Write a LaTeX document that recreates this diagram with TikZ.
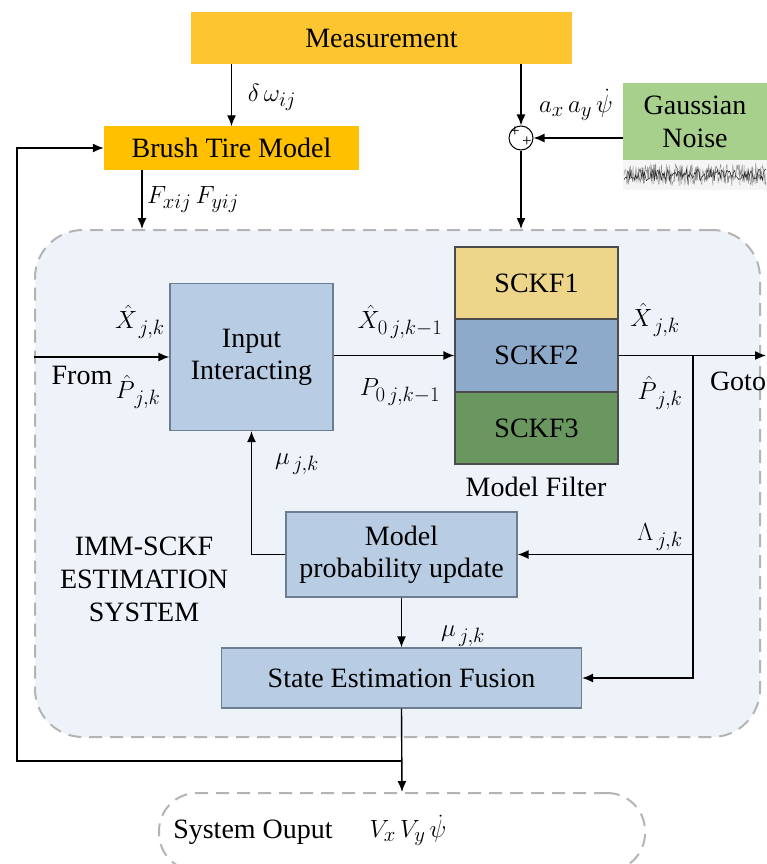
\documentclass[tikz,border=0pt]{standalone}
\usepackage{fontspec}
\setmainfont{Liberation Serif}[Ligatures=TeX]
\newfontfamily\serifx{Liberation Serif}
\usetikzlibrary{arrows.meta,calc}
\definecolor{measC}{HTML}{FDC630}
\definecolor{brushC}{HTML}{FFC000}
\definecolor{gaussC}{HTML}{A8D08D}
\definecolor{bigC}{HTML}{EEF3FA}
\definecolor{blueC}{HTML}{B8CCE4}
\definecolor{blueD}{HTML}{6D7E92}
\definecolor{sk1}{HTML}{EDD589}
\definecolor{sk2}{HTML}{8EAACA}
\definecolor{sk3}{HTML}{6A9660}
\definecolor{dashC}{HTML}{B4B4B4}
\begin{document}
\begin{tikzpicture}[x=1pt,y=-1pt,
  font=\serifx\fontsize{28}{32}\selectfont,
  every node/.style={inner sep=0pt},
  arr/.style={-{Latex[length=11pt,width=9pt]}, line width=1.4pt},
  bluebox/.style={fill=blueC, draw=blueD, line width=1.2pt, align=center},
  sckf/.style={draw=black!70, line width=1.2pt, minimum width=163pt},
  dashbox/.style={draw=dashC, line width=2pt, dash pattern=on 13pt off 8pt}
]
\path[use as bounding box, clip] (0,0) rectangle (767,864);
\fill[white] (0,0) rectangle (767,864);

% big dashed system box
\node[dashbox, fill=bigC, rounded corners=48pt, minimum width=725pt, minimum height=507pt] (big) at (397.5,483.5) {};

% top boxes
\node[fill=measC, minimum width=381pt, minimum height=52pt] (meas) at (381.5,38) {Measurement};
\node[fill=brushC, minimum width=255pt, minimum height=43pt] (brush) at (231.5,148) {Brush Tire Model};
\node[fill=gaussC, minimum width=144pt, minimum height=77pt, align=center, font=\serifx\fontsize{28}{33}\selectfont] (gauss) at (695,121.5) {Gaussian\\Noise};
\node[draw, circle, line width=1pt, minimum size=24pt] (sum) at (521,138) {};
\node[font=\fontsize{17}{17}\selectfont] (p1) at (515,132) {+};
\node[font=\fontsize{17}{17}\selectfont] (p2) at (527,142) {+};

% noise strip
\fill[black!4] (623,160) rectangle (767,190);
\pgfmathsetseed{11}
\draw[black!45, line width=0.4pt] plot[domain=624:766, samples=300] (\x, {175+11*rand});
\draw[black!85, line width=0.5pt] plot[domain=624:766, samples=160] (\x, {175+6*rand});

% inner blocks
\node[bluebox, minimum width=163pt, minimum height=147pt] (inp) at (251.5,357) {Input\\Interacting};
\node[sckf, fill=sk1, minimum height=72pt] (s1) at (536.5,283) {SCKF1};
\node[sckf, fill=sk2, minimum height=73pt] (s2) at (536.5,355.5) {SCKF2};
\node[sckf, fill=sk3, minimum height=72pt] (s3) at (536.5,428) {SCKF3};
\node (mf) at (536,487) {Model Filter};
\node[bluebox, minimum width=231pt, minimum height=85pt] (mp) at (401.5,554.5) {Model\\probability update};
\node[bluebox, minimum width=360pt, minimum height=60pt] (sef) at (401.5,678) {State Estimation Fusion};
\node[align=center, font=\serifx\fontsize{28}{33}\selectfont] (imm) at (144,579) {IMM-SCKF\\ESTIMATION\\SYSTEM};

% output box
\node[dashbox, rounded corners=38pt, minimum width=486pt, minimum height=78pt] (out) at (402,832) {};
\node (outtxt) at (253,832) {System Ouput};
\node (outv) at (408,830) {$V_x\,V_y\,\dot{\psi}$};

% coordinates
\coordinate (jn) at (693,355.5);
\coordinate (goto) at (766,355.5);
\coordinate (fb1) at (401.5,761);
\coordinate (fb2) at (17,761);
\coordinate (fxy) at (142,169.5);

% connectors
\draw[arr] (brush.north |- meas.south) -- (brush.north);
\draw[arr] (sum.north |- meas.south) -- (sum.north);
\draw[arr] (gauss.west |- sum) -- (sum.east);
\draw[arr] (sum.south) -- (sum |- big.north);
\draw[arr] (fxy) -- (fxy |- big.north);
\draw[arr] (big.west |- inp) -- (inp.west);
\draw[arr] (inp.east |- s2) -- (s2.west);
\draw[arr] (s2.east) -- (goto);
\draw[arr] (jn) |- (mp.east);
\draw[arr] (jn) |- (sef.east);
\draw[arr] (mp.west) -| (inp.south);
\draw[arr] (mp.south) -- (sef.north);
\draw[arr] (sef.south) -- (out.north);
\draw[arr] (fb1) -- (fb2) |- (brush.west);

% labels
\node (l1) at (272,97) {$\delta\,\omega_{ij}$};
\node (l2) at (576,105) {$a_x\,a_y\,\dot{\psi}$};
\node (l3) at (193,200) {$F_{xij}\,F_{yij}$};
\node (l4) at (140,322) {$\hat{X}_{\,j,k}$};
\node (l5) at (82,375) {From};
\node (l6) at (138,392) {$\hat{P}_{\,j,k}$};
\node (l7) at (400,322) {$\hat{X}_{0\,j,k-1}$};
\node (l8) at (400,392) {$P_{0\,j,k-1}$};
\node (l9) at (655,320) {$\hat{X}_{\,j,k}$};
\node (l10) at (660,393) {$\hat{P}_{\,j,k}$};
\node (l11) at (738,381) {Goto};
\node (l12) at (297,464) {$\mu_{\,j,k}$};
\node (l13) at (660,537) {$\Lambda_{\,j,k}$};
\node (l14) at (463,636) {$\mu_{\,j,k}$};
\end{tikzpicture}
\end{document}
